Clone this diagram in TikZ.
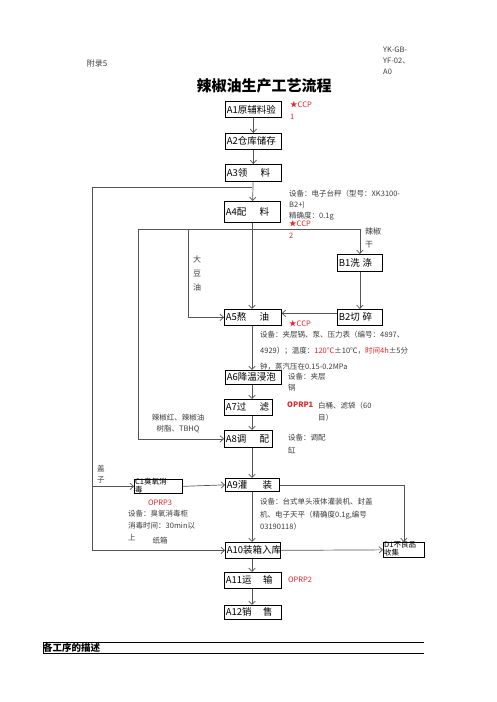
\documentclass[tikz,border=0pt]{standalone}
\usepackage{fontspec}
\setmainfont{Noto Sans CJK SC}
\usetikzlibrary{arrows.meta,calc,positioning}
\definecolor{wire}{HTML}{555555}
\definecolor{note}{HTML}{3C3C3C}
\definecolor{hazard}{HTML}{E3262B}
\tikzset{>={Straight Barb[length=3.5pt,width=6.5pt]},
  every node/.style={inner sep=0pt},
  stage/.style={draw=black,line width=.7pt,anchor=north west,minimum height=16pt,
    inner xsep=1.5pt,text width=#1,align=left,font=\fontsize{9.5}{10}\selectfont},
  stage/.default=53pt,
  flow/.style={->,draw=wire,line width=.7pt},
  link/.style={draw=wire,line width=.7pt},
  memo/.style={anchor=north west,align=left,text=note,font=\fontsize{7.5}{#1}\selectfont},
  memo/.default=12,
  ccp/.style={anchor=north west,align=left,text=hazard,font=\fontsize{7.5}{12}\selectfont}}

\begin{document}
\begin{tikzpicture}[x=1pt,y=-1pt]
\path[use as bounding box] (0,0) rectangle (496,702);
% heading
\node[text=note,font=\fontsize{8}{9}\selectfont] (appx) at (97,63) {附录5};
\node[memo=11] (docno) at (383,47) {YK-GB-\\YF-02、\\A0};
\node[font=\fontsize{15}{15}\selectfont\bfseries] (title) at (264,86) {辣椒油生产工艺流程};
% main line
\node[stage] (A1) at (225,101) {A1原辅料验};
\node[stage] (A2) at (225,133) {A2仓库储存};
\node[stage,minimum height=17pt] (A3) at (225,164) {A3领\hspace{1.4em}料};
\node[stage,minimum height=21pt] (A4) at (224,201) {A4配\hspace{1.4em}料};
\node[stage=54pt] (A5) at (224,309) {A5熬\hspace{1.4em}油};
\node[stage,minimum height=14pt] (A6) at (225,370) {A6降温浸泡};
\node[stage=45pt] (A7) at (224,399) {A7过\hspace{1.4em}滤};
\node[stage=45pt,minimum height=17pt] (A8) at (224,430) {A8调\hspace{1.4em}配};
\node[stage=51pt,minimum height=13pt] (A9) at (225,478) {A9灌\hspace{1.6em}装};
\node[stage=52pt] (A10) at (225,542) {A10装箱入库};
\node[stage=54pt] (A11) at (224,572) {A11运\hspace{1.2em}输};
\node[stage=54pt,minimum height=14pt] (A12) at (224,605) {A12销\hspace{1.2em}售};
% side lines
\node[stage=42pt,minimum height=17pt] (B1) at (337,254) {B1洗\hspace{.3em}涤};
\node[stage=42pt] (B2) at (337,309) {B2切\hspace{.3em}碎};
\node[stage=45pt,minimum height=14pt] (C1) at (134,479) {};
\node[anchor=north west,align=left,font=\fontsize{7.5}{8}\selectfont] (C1t) at (135,478) {C1臭氧消\\毒};
\node[stage=38pt,minimum height=15pt] (D1) at (383,542) {};
\node[anchor=north west,align=left,font=\fontsize{7.5}{8}\selectfont] (D1t) at (384,541) {D1不良品\\收集};
% connectors
\coordinate (j1) at (252,187); \coordinate (lo) at (92,187);
\coordinate (j2) at (252,229); \coordinate (li) at (138,229); \coordinate (so) at (188,229);
\draw[flow] (A1) -- (A2); \draw[flow] (A2) -- (A3); \draw[flow] (A3) -- (A4);
\draw[link] (j1) -- (lo); \draw[flow] (lo) |- (A10.west); \draw[flow] (lo |- C1.west) -- (C1.west);
\draw[flow] (A4.south -| j2) -- (A5.north -| j2);
\draw[flow] (j2) -| (B1.north); \draw[flow] (B1) -- (B2);
\draw[flow] (j2) -- (li) |- (A8.west); \draw[flow] (so) |- (A5.west);
\draw[flow] ([yshift=4pt]B2.west) -- ([yshift=4pt]A5.east);
\draw[flow] (A5.south -| j2) -- (A6.north -| j2);
\draw[flow] (A6.south -| j2) -- (A7.north -| j2);
\draw[flow] (A7.south -| j2) -- (A8.north -| j2);
\draw[flow] (A8.south -| j2) -- (A9.north -| j2);
\draw[flow] (C1.east) -- (A9.west);
\draw[flow] (A9.south -| j2) -- (A10.north -| j2);
\draw[flow] (A9.east) -| (D1.north); \draw[flow] (A10.east) -- (D1.west);
\draw[flow] (A10.south -| j2) -- (A11.north -| j2);
\draw[flow] (A11.south -| j2) -- (A12.north -| j2);
% notes
\node[ccp] (ccp1) at (290,101) {★CCP\\1};
\node[memo=11] (eq4) at (289,190) {设备：电子台秤（型号：XK3100-\\B2+)\\精确度：0.1g};
\node[ccp] (ccp2) at (289,220) {★CCP\\2};
\node[memo=13,font=\fontsize{8}{13}\selectfont] (dry) at (365,228) {辣椒\\干};
\node[memo=14,font=\fontsize{8}{14}\selectfont] (soy) at (193,256) {大\\豆\\油};
\node[ccp] (ccp3) at (289,320) {★CCP};
\node[memo=16,fill=white] (eq5) at (260,331) {设备：夹层锅、泵、压力表（编号：4897、\\
  4929）；温度：\textcolor{hazard}{120℃}±10℃，\textcolor{hazard}{时间4h}±5分\\钟，蒸汽压在0.15-0.2MPa};
\node[memo=11] (eq6) at (288,373) {设备：夹层\\锅};
\node[ccp] (op1) at (287,402) {\bfseries OPRP1};
\node[memo] (bag) at (318,402) {白桶、滤袋（60\\目）};
\node[memo=11,align=center,anchor=center] (add) at (178,424) {辣椒红、辣椒油\\树脂、TBHQ};
\node[memo=13] (eq8) at (288,434) {设备：调配\\缸};
\node[memo=11] (lid) at (97,465) {盖\\子};
\node[ccp,anchor=center] (op3) at (160,503) {OPRP3};
\node[memo=12] (eq1) at (128,510) {设备：臭氧消毒柜\\消毒时间：30min以\\上};
\node[memo,anchor=center] (ctn) at (160,541) {纸箱};
\node[memo=12.5] (eq9) at (260,498) {设备：台式单头液体灌装机、封盖\\机、电子天平（精确度0.1g,编号\\03190118）};
\node[ccp,anchor=center] (op2) at (300,580) {OPRP2};
% footer
\node[anchor=west,font=\fontsize{9.5}{10}\selectfont\bfseries] (desc) at (43,648) {各工序的描述};
\draw[line width=.7pt] (424,642) -- (43,642) -- (43,653) -- (424,653);
\end{tikzpicture}
\end{document}
